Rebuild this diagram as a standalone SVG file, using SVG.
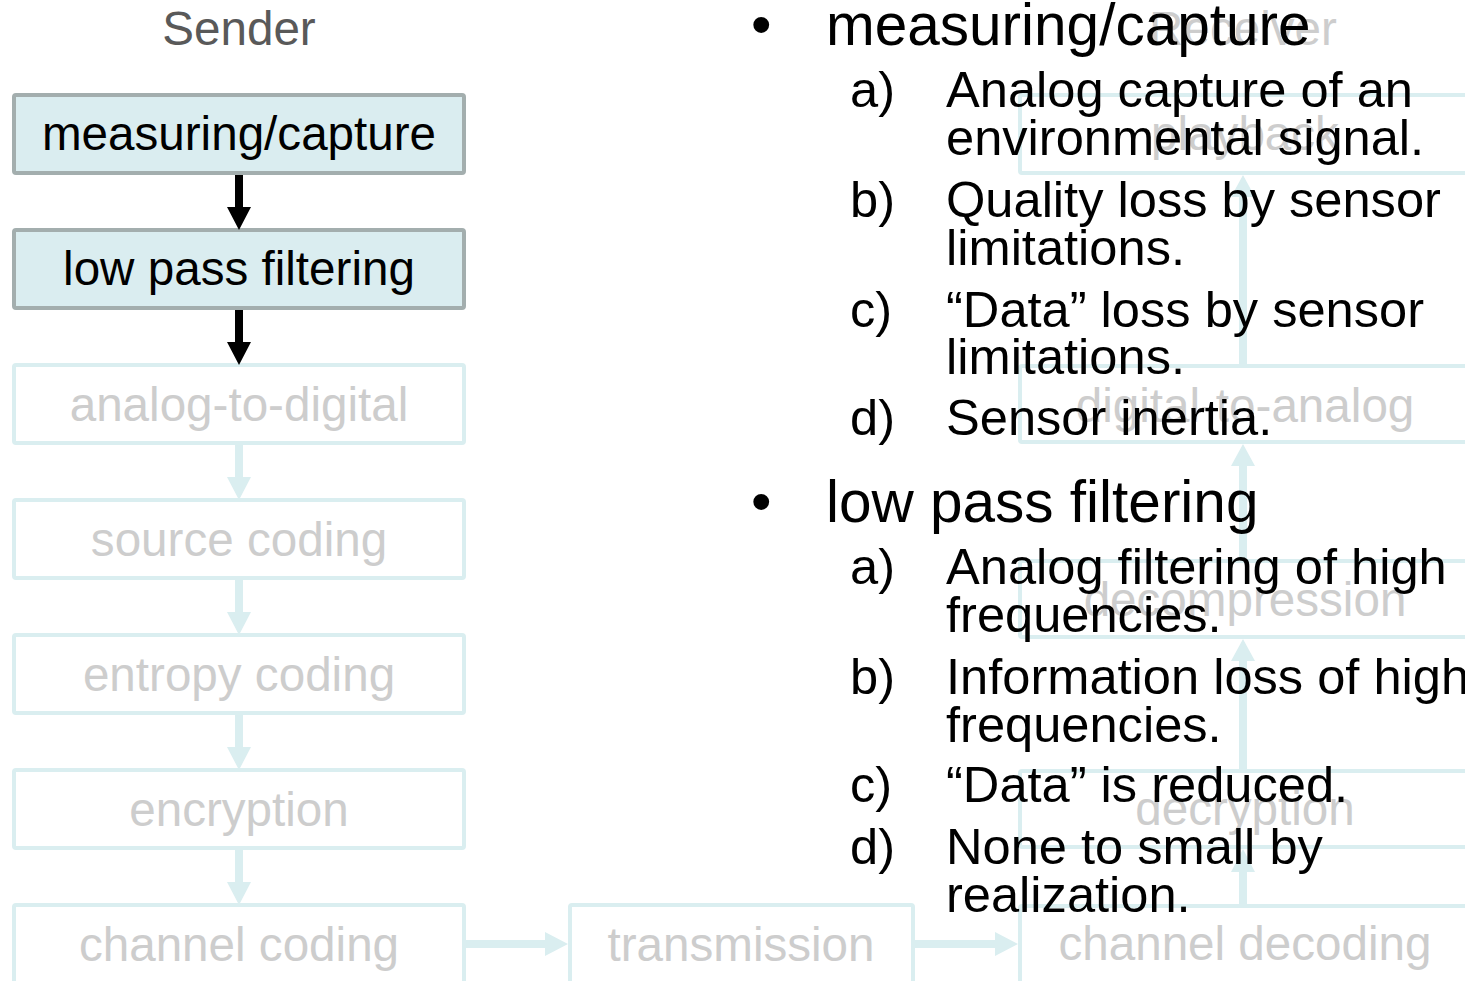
<svg xmlns="http://www.w3.org/2000/svg" width="1465" height="981" viewBox="0 0 1465 981">
  <style>
    .box-on { fill: #daedf0; stroke: #a3aeae; stroke-width: 4; }
    .box-off { fill: #ffffff; stroke: #daeef0; stroke-width: 4; }
    .lbl { font-family: "Liberation Sans", Arial, sans-serif; font-size: 47.6px; text-anchor: middle; }
    .lbl-on { fill: #000000; }
    .lbl-off { fill: #cdcdcd; }
    .head { font-family: "Liberation Sans", Arial, sans-serif; font-size: 47.6px; text-anchor: middle; }
    .bul { font-family: "Liberation Sans", Arial, sans-serif; font-size: 58.5px; fill: #000000; }
    .item { font-family: "Liberation Sans", Arial, sans-serif; font-size: 50.6px; fill: #000000; }
    .arr-on { fill: #000000; }
    .arr-off { fill: #daeef0; }
  </style>

  <!-- column headings -->
  <text id="sender" class="head" x="239" y="45" fill="#595959">Sender</text>
  <text id="receiver" class="head" x="1243" y="45" fill="#cdcdcd">Receiver</text>

  <!-- sender chain -->
  <g id="measuring">
    <rect class="box-on" x="14" y="95" width="450" height="78" rx="2"/>
    <text class="lbl lbl-on" x="239" y="150">measuring/capture</text>
  </g>
  <g id="lowpass">
    <rect class="box-on" x="14" y="230" width="450" height="78" rx="2"/>
    <text class="lbl lbl-on" x="239" y="285">low pass filtering</text>
  </g>
  <g id="adc">
    <rect class="box-off" x="14" y="365" width="450" height="78" rx="2"/>
    <text class="lbl lbl-off" x="239" y="421">analog-to-digital</text>
  </g>
  <g id="source-coding">
    <rect class="box-off" x="14" y="500" width="450" height="78" rx="2"/>
    <text class="lbl lbl-off" x="239" y="556">source coding</text>
  </g>
  <g id="entropy-coding">
    <rect class="box-off" x="14" y="635" width="450" height="78" rx="2"/>
    <text class="lbl lbl-off" x="239" y="691">entropy coding</text>
  </g>
  <g id="encryption">
    <rect class="box-off" x="14" y="770" width="450" height="78" rx="2"/>
    <text class="lbl lbl-off" x="239" y="826">encryption</text>
  </g>
  <g id="channel-coding">
    <rect class="box-off" x="14" y="905" width="450" height="78" rx="2"/>
    <text class="lbl lbl-off" x="239" y="961">channel coding</text>
  </g>

  <!-- transmission -->
  <g id="transmission">
    <rect class="box-off" x="570" y="905" width="343" height="78" rx="2"/>
    <text class="lbl lbl-off" x="741" y="961">transmission</text>
  </g>

  <!-- receiver chain -->
  <g id="playback">
    <rect class="box-off" x="1020" y="95" width="450" height="78" rx="2"/>
    <text class="lbl lbl-off" x="1245" y="150">playback</text>
  </g>
  <g id="dac">
    <rect class="box-off" x="1020" y="366" width="450" height="76" rx="2"/>
    <text class="lbl lbl-off" x="1245" y="422">digital-to-analog</text>
  </g>
  <g id="decompression">
    <rect class="box-off" x="1020" y="561" width="450" height="76" rx="2"/>
    <text class="lbl lbl-off" x="1245" y="616">decompression</text>
  </g>
  <g id="decryption">
    <rect class="box-off" x="1020" y="771" width="450" height="76" rx="2"/>
    <text class="lbl lbl-off" x="1245" y="825">decryption</text>
  </g>
  <g id="channel-decoding">
    <rect class="box-off" x="1020" y="906" width="450" height="78" rx="2"/>
    <text class="lbl lbl-off" x="1245" y="960">channel decoding</text>
  </g>

  <!-- connectors: block arrows -->
  <g id="connectors">
    <!-- sender, downward -->
    <polygon class="arr-on" points="235,175 243,175 243,207 251,207 239,230 227,207 235,207"/>
    <polygon class="arr-on" points="235,310 243,310 243,342 251,342 239,365 227,342 235,342"/>
    <polygon class="arr-off" points="235,445 243,445 243,477 251,477 239,500 227,477 235,477"/>
    <polygon class="arr-off" points="235,580 243,580 243,612 251,612 239,635 227,612 235,612"/>
    <polygon class="arr-off" points="235,715 243,715 243,747 251,747 239,770 227,747 235,747"/>
    <polygon class="arr-off" points="235,850 243,850 243,882 251,882 239,905 227,882 235,882"/>
    <!-- across the channel -->
    <polygon class="arr-off" points="466,940 545,940 545,932 568,944 545,956 545,948 466,948"/>
    <polygon class="arr-off" points="915,940 995,940 995,932 1018,944 995,956 995,948 915,948"/>
    <!-- receiver, upward -->
    <polygon class="arr-off" points="1239,904 1247,904 1247,872 1255,872 1243,849 1231,872 1239,872"/>
    <polygon class="arr-off" points="1239,769 1247,769 1247,661 1255,661 1243,639 1231,661 1239,661"/>
    <polygon class="arr-off" points="1239,559 1247,559 1247,466 1255,466 1243,444 1231,466 1239,466"/>
    <polygon class="arr-off" points="1239,364 1247,364 1247,197 1255,197 1243,175 1231,197 1239,197"/>
  </g>

  <!-- notes -->
  <g id="notes">
    <text class="bul" x="751" y="45">•</text>
    <text class="bul" x="826" y="45">measuring/capture</text>
    <text class="item" x="850" y="107">a)</text>
    <text class="item" x="946" y="107">Analog capture of an</text>
    <text class="item" x="946" y="155">environmental signal.</text>
    <text class="item" x="850" y="217">b)</text>
    <text class="item" x="946" y="217">Quality loss by sensor</text>
    <text class="item" x="946" y="265">limitations.</text>
    <text class="item" x="850" y="327">c)</text>
    <text class="item" x="946" y="327">“Data” loss by sensor</text>
    <text class="item" x="946" y="374">limitations.</text>
    <text class="item" x="850" y="435">d)</text>
    <text class="item" x="946" y="435">Sensor inertia.</text>

    <text class="bul" x="751" y="522">•</text>
    <text class="bul" x="826" y="522">low pass filtering</text>
    <text class="item" x="850" y="584">a)</text>
    <text class="item" x="946" y="584">Analog filtering of high</text>
    <text class="item" x="946" y="632">frequencies.</text>
    <text class="item" x="850" y="694">b)</text>
    <text class="item" x="946" y="694">Information loss of high</text>
    <text class="item" x="946" y="742">frequencies.</text>
    <text class="item" x="850" y="802">c)</text>
    <text class="item" x="946" y="802">“Data” is reduced.</text>
    <text class="item" x="850" y="864">d)</text>
    <text class="item" x="946" y="864">None to small by</text>
    <text class="item" x="946" y="912">realization.</text>
  </g>
</svg>
